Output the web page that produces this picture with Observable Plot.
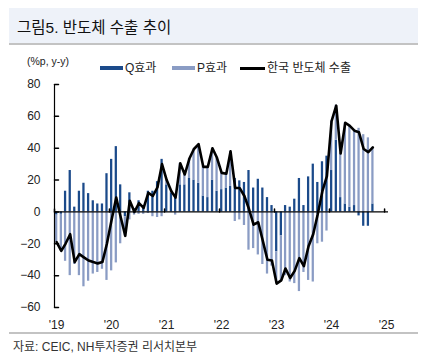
<!DOCTYPE html>
<html><head><meta charset="utf-8">
<script src="https://cdn.jsdelivr.net/npm/d3@7"></script>
<script src="https://cdn.jsdelivr.net/npm/@observablehq/plot@0.6"></script>
<style>
body{margin:0;width:423px;height:360px;position:relative;background:#fff;overflow:hidden;font-family:"Liberation Sans","Noto Sans CJK KR",sans-serif;color:#222}
.abs{position:absolute;white-space:nowrap}
#titlebox{left:9px;top:8px;width:409px;height:35px;background:#EEF2F9;border-bottom:2px solid #C3C3C3}
#title{left:17px;top:18px;font-size:15.5px;line-height:19px;color:#111}
#ylab{left:27px;top:54px;font-size:10.5px;line-height:14px}
.lt{top:60px;font-size:12px;line-height:16px}
#plot{left:0;top:70px}
#bottomline{left:9px;top:332px;width:409px;height:2px;background:#C3C3C3}
#source{left:13px;top:339px;font-size:12px;line-height:16px;color:#333}
</style></head>
<body>
<div id="titlebox" class="abs"></div>
<div id="title" class="abs">그림5. 반도체 수출 추이</div>
<div id="ylab" class="abs">(%p, y-y)</div>
<div id="legend"></div>
<div id="plot" class="abs"></div>
<div id="bottomline" class="abs"></div>
<div id="source" class="abs">자료: CEIC, NH투자증권 리서치본부</div>
<script>
// ---- data ----
const months = [
 "2019-01","2019-02","2019-03","2019-04","2019-05","2019-06","2019-07","2019-08","2019-09","2019-10","2019-11","2019-12",
 "2020-01","2020-02","2020-03","2020-04","2020-05","2020-06","2020-07","2020-08","2020-09","2020-10","2020-11","2020-12",
 "2021-01","2021-02","2021-03","2021-04","2021-05","2021-06","2021-07","2021-08","2021-09","2021-10","2021-11","2021-12",
 "2022-01","2022-02","2022-03","2022-04","2022-05","2022-06","2022-07","2022-08","2022-09","2022-10","2022-11","2022-12",
 "2023-01","2023-02","2023-03","2023-04","2023-05","2023-06","2023-07","2023-08","2023-09","2023-10","2023-11","2023-12",
 "2024-01","2024-02","2024-03","2024-04","2024-05","2024-06","2024-07","2024-08","2024-09","2024-10"
];
const qEffect = [
 -2,-1.5,13,26,3,13,18,11.5,7,5,5,24,
 33,41,17,-3,12,2,7,4,13,13,19,33,
 17,12,11,17,17,21,20,18,10,9,20,13,
 14,15,16,21,19.5,18.5,26,15,20.5,15,9,4,
 -25,-15,4,3,8,21,4,22,30,18.5,31.5,35,
 26,45,9,5,3,4,-2.5,-9,-9,5
];
const pEffect = [
 -17,-23,-31,-40,-33,-40,-47,-43.5,-39,-38,-36,-43,
 -37,-32,-20,-12,-5,-2,-1.5,-1.5,-1,-3,-3.5,-3,
 3,1,-2,13.5,6.5,12.5,19.5,24.5,18.3,19.3,20,21,
 10.5,9,22,-6,-5,-8.5,-24,-23,-27,-33,-39,-34,
 -20,-28,-40,-44,-45,-50,-38,-43,-44,-20,-19,-12,
 31,22,28,51,51,47,52.5,48.5,46.5,35.5
];
const exportGrowth = [
 -19,-24.5,-20,-14,-31.5,-26.5,-28.5,-30.5,-31.5,-32.3,-31.5,-20,
 -5,9,-3,-15,7,0,5.5,2.5,12,10,15.5,30,
 20,13,9,30.5,23.5,33.5,39.5,42.5,28.3,28.3,40,34,
 24.5,24,38,15,15,10,2,-8,-6.5,-18,-30,-30.5,
 -45,-43,-35.5,-41.5,-37,-29,-34,-21.5,-14,-1.5,13,22.5,
 57,66.7,36.7,56,54,51,50,39.5,37.5,40.5
];
const yearTicks = ["2019","2020","2021","2022","2023","2024","2025"];
const yTicks = [-60,-40,-20,0,20,40,60,80];
const yDomain = [-60, 80];
const xDomainText = ["2019-01-01","2025-01-27"];
const seriesNames = ["Q효과","P효과","한국 반도체 수출"];
const colors = {Q:"#1B4A8A", P:"#8A9CC4", line:"#000000"};

// ---- build ----
const mid = m => { const [y,mo] = m.split("-").map(Number); return new Date(Date.UTC(y, mo-1, 15)); };
const xDomain = xDomainText.map(s => new Date(s + "T00:00:00Z"));
const yearDates = yearTicks.map(y => new Date(Date.UTC(+y, 0, 1)));
const qBars = [], pBars = [];
months.forEach((m, i) => {
  const d = mid(m);
  const x1 = d3.utcDay.offset(d, -7), x2 = d3.utcDay.offset(d, 8);
  const q = qEffect[i], p = pEffect[i];
  qBars.push({x1, x2, y1: 0, y2: q});
  const base = (Math.sign(p) === Math.sign(q)) ? q : 0;
  pBars.push({x1, x2, y1: base, y2: base + p});
});
const lineData = months.map((m, i) => ({date: mid(m), v: exportGrowth[i]}));
const tickShape = {draw(ctx, l) { ctx.moveTo(0, 0); ctx.lineTo(0, -l); }};

const chart = Plot.plot({
  width: 423, height: 265,
  marginTop: 14, marginBottom: 28, marginLeft: 54, marginRight: 35,
  x: {type: "utc", domain: xDomain, axis: null},
  y: {domain: yDomain, axis: null},
  style: {fontFamily: '"Liberation Sans","Noto Sans CJK KR",sans-serif', fontSize: "12px", color: "#222", background: "transparent"},
  marks: [
    Plot.rectY(qBars, {x1: "x1", x2: "x2", y1: "y1", y2: "y2", fill: colors.Q}),
    Plot.rectY(pBars, {x1: "x1", x2: "x2", y1: "y1", y2: "y2", fill: colors.P}),
    Plot.ruleY([0], {stroke: "#000", strokeWidth: 1.2}),
    Plot.ruleX([xDomain[0]], {y1: yDomain[0], y2: yDomain[1], stroke: "#000", strokeWidth: 1.2}),
    Plot.vector(yTicks, {x: () => xDomain[0], y: d => d, rotate: 90, length: 4, anchor: "start", shape: tickShape, stroke: "#000"}),
    Plot.vector(yearDates, {x: d => d, y: () => 0, length: 3, anchor: "start", shape: tickShape, stroke: "#000"}),
    Plot.axisY(yTicks, {anchor: "left", tickSize: 0, tickPadding: 14, label: null, fontSize: 12}),
    Plot.axisX(yearDates, {anchor: "bottom", tickSize: 0, tickPadding: 13, dx: 2, label: null, fontSize: 12,
      tickFormat: d => "'" + String(d.getUTCFullYear()).slice(2)}),
    Plot.line(lineData, {x: "date", y: "v", stroke: colors.line, strokeWidth: 2.6, strokeLinejoin: "round"})
  ]
});
document.getElementById("plot").appendChild(chart);

// legend
const lg = document.getElementById("legend");
const items = [
  {name: seriesNames[0], type: "sw", color: colors.Q, x: 100, w: 23, tx: 125},
  {name: seriesNames[1], type: "sw", color: colors.P, x: 172, w: 23, tx: 197},
  {name: seriesNames[2], type: "ln", color: colors.line, x: 240, w: 25, tx: 267}
];
items.forEach(it => {
  const s = document.createElement("div");
  s.className = "abs";
  s.style.left = it.x + "px"; s.style.width = it.w + "px"; s.style.background = it.color;
  if (it.type === "sw") { s.style.top = "66px"; s.style.height = "4px"; }
  else { s.style.top = "67px"; s.style.height = "2.5px"; }
  lg.appendChild(s);
  const t = document.createElement("div");
  t.className = "abs lt"; t.style.left = it.tx + "px"; t.textContent = it.name;
  lg.appendChild(t);
});
</script>
</body></html>
